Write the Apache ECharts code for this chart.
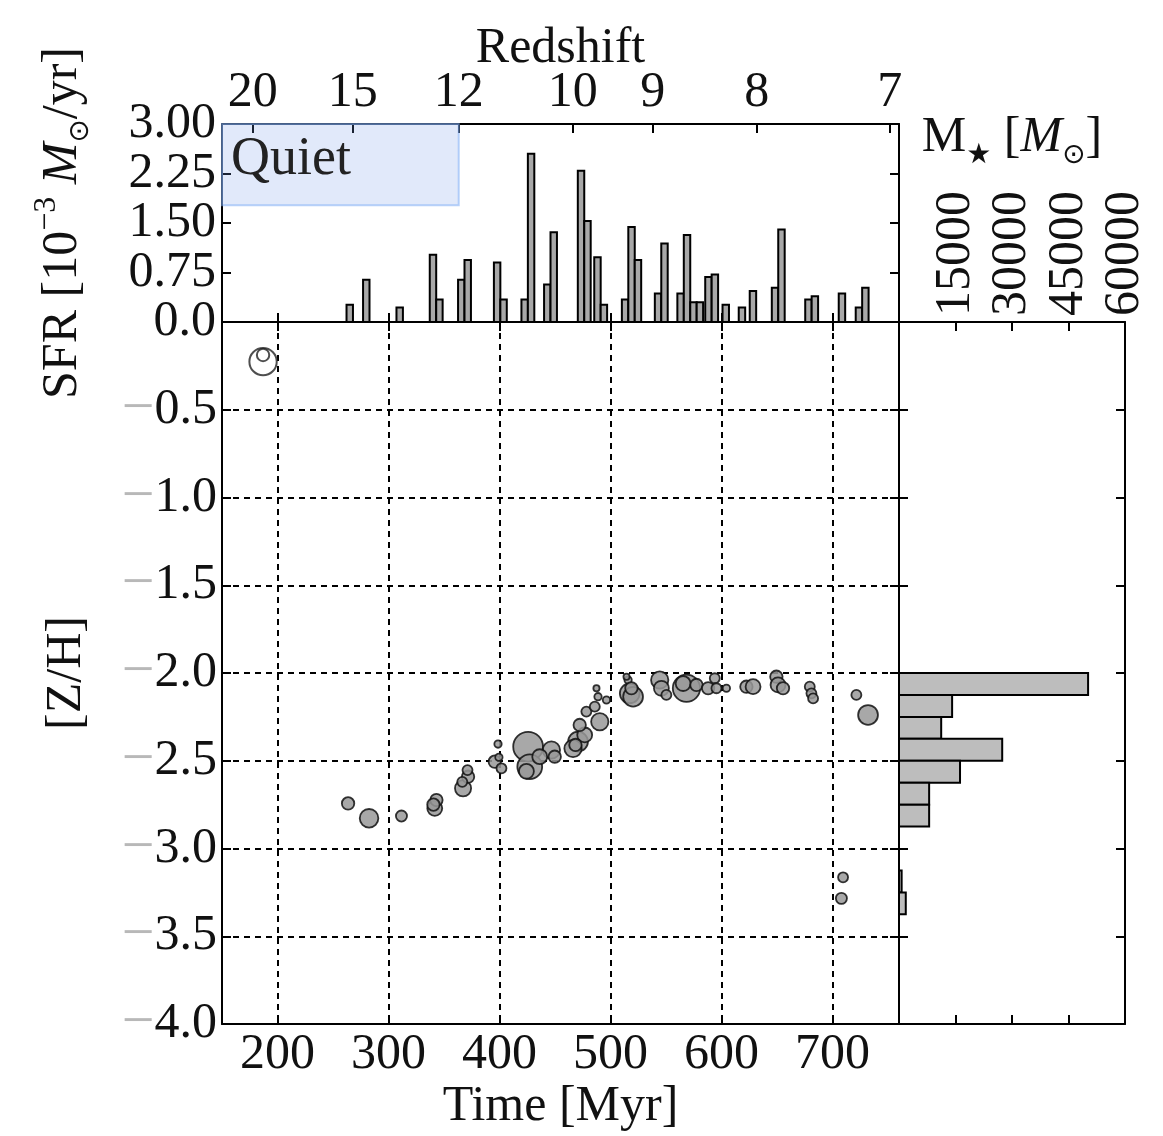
<!DOCTYPE html>
<html>
<head>
<meta charset="utf-8">
<title>SFR and metallicity history</title>
<script src="https://cdn.jsdelivr.net/npm/echarts@6/dist/echarts.min.js"></script>
<style>
  html, body { margin: 0; padding: 0; background: #fff; }
  #chart { width: 1163px; height: 1136px; }
</style>
</head>
<body>
<div id="chart"></div>
<script>
const FONT = '"Liberation Serif", "DejaVu Serif", serif';
const FS = 50;

// shared time range (Myr)
const timeMin = 150;
const timeMax = 760;

// star formation rate histogram, 10^-3 Msun/yr
const sfrBinWidth = 5.8;
const sfrBinStart = [262.2, 277.1, 307.2, 337.2, 343.0, 362.7, 368.5, 395.0, 400.8, 419.8,
  425.6, 440.2, 446.0, 470.6, 476.4, 485.4, 491.2, 510.3, 516.1, 521.9,
  540.0, 545.8, 560.3, 566.1, 571.9, 577.7, 585.4, 591.2, 601.0, 615.6,
  625.5, 645.4, 651.2, 675.5, 681.3, 705.7, 721.0, 726.8];
const sfrValues = [0.26, 0.64, 0.22, 1.02, 0.34, 0.64, 0.94, 0.90, 0.34, 0.34,
  2.55, 0.57, 1.36, 2.29, 1.53, 0.98, 0.26, 0.34, 1.44, 0.94,
  0.43, 1.19, 0.43, 1.32, 0.30, 0.30, 0.68, 0.72, 0.26, 0.22,
  0.47, 0.52, 1.40, 0.34, 0.39, 0.43, 0.22, 0.52];

// SFR tick labels, split in two sets so neighbouring labels never collide
const sfrTicksA = [0, 1.5, 3];
const sfrTicksB = [0.75, 2.25];

// redshift ticks on the top axis (time where each redshift falls)
const redshiftLabels = ['20', '15', '12', '10', '9', '8', '7'];
const redshiftTimes = [177.7, 267.8, 363.3, 466.0, 538.1, 631.8, 751.6];

// quiet period box
const quietTime = [150, 363.3];
const quietSfr = [1.77, 3.0];

// star particles: time, [Z/H], mass (Msun)
const starTime = [263.6, 282.5, 311.7, 341.7, 343.2, 340.5, 367.2, 371.7, 371.2, 366.5,
  398.7, 395.8, 401.8, 399.5, 425.8, 427.3, 424.3, 446.8, 449.8, 436.3,
  470.8, 476.8, 466.3, 468.5, 490.4, 472.3, 478.3, 485.9, 488.8, 496.4,
  487.4, 517.4, 515.9, 520.4, 518.9, 514.5, 544.4, 545.9, 550.4, 568.5,
  565.5, 577.5, 588.0, 594.0, 595.5, 604.5, 622.5, 628.5, 649.5, 651.0,
  655.5, 679.6, 681.1, 682.6, 721.6, 732.1, 709.6, 708.1];
const starZ = [-2.743, -2.828, -2.815, -2.771, -2.724, -2.750, -2.657, -2.591, -2.553, -2.620,
  -2.405, -2.505, -2.543, -2.480, -2.420, -2.534, -2.560, -2.439, -2.477, -2.477,
  -2.391, -2.353, -2.430, -2.410, -2.278, -2.296, -2.220, -2.192, -2.135, -2.154,
  -2.087, -2.116, -2.040, -2.135, -2.087, -2.021, -2.040, -2.087, -2.125, -2.087,
  -2.060, -2.068, -2.087, -2.030, -2.087, -2.087, -2.078, -2.078, -2.021, -2.068,
  -2.087, -2.078, -2.116, -2.145, -2.125, -2.239, -3.164, -3.284];
const starMass = [2000, 4500, 1600, 2900, 2000, 2000, 3400, 2000, 1300, 1300,
  700, 2000, 1300, 700, 11500, 8000, 2900, 3900, 2000, 2900,
  5100, 2900, 3900, 2000, 3900, 2000, 1300, 1300, 700, 700,
  500, 5100, 700, 5100, 2000, 500, 3900, 2900, 1300, 9700,
  2900, 2000, 2000, 1300, 1300, 700, 2000, 2900, 2000, 2900,
  2000, 1300, 1300, 1300, 1300, 5100, 1300, 1600];

// first (pristine) star particles, open symbols
const firstTime = [187.0, 187.0];
const firstZ = [-0.226, -0.188];
const firstMass = [9700, 2000];

// stellar mass per [Z/H] bin
const zBinTop = [-2.0, -2.125, -2.25, -2.375, -2.5, -2.625, -2.75, -3.125, -3.25];
const zBinBottom = [-2.125, -2.25, -2.375, -2.5, -2.625, -2.75, -2.875, -3.25, -3.375];
const zBinMass = [50200, 14100, 11200, 27400, 16200, 8000, 8000, 700, 1800];

const chart = echarts.init(document.getElementById('chart'));

const lineStyle = { color: '#000', width: 2 };
const axisLine = { show: true, onZero: false, lineStyle };
const ticks = { show: true, inside: true, length: 9, lineStyle };
const noLabel = { show: false };
const gridLine = { show: true, lineStyle: { color: '#000', width: 2, type: [6, 5] } };
const textBase = { fontFamily: FONT, fontSize: FS, color: '#111' };

const nameRich = {
  t: { fontFamily: FONT, fontSize: FS, color: '#111', lineHeight: 64 },
  i: { fontFamily: FONT, fontSize: FS, fontStyle: 'italic', color: '#111', lineHeight: 64 },
  s: { fontFamily: FONT, fontSize: 32, color: '#111', verticalAlign: 'top', lineHeight: 64 },
  b: { fontFamily: '"DejaVu Sans", sans-serif', fontSize: 28, color: '#111', verticalAlign: 'bottom', lineHeight: 64 }
};

const starSize = (v) => Math.sqrt(v[2] / 13);

const renderSfrBar = (params, api) => {
  const p0 = api.coord([api.value(0), api.value(2)]);
  const p1 = api.coord([api.value(1), 0]);
  return {
    type: 'rect',
    shape: { x: p0[0], y: p0[1], width: p1[0] - p0[0], height: p1[1] - p0[1] },
    style: { fill: '#a8a8a8', stroke: '#000', lineWidth: 2 }
  };
};

const renderZBar = (params, api) => {
  const p0 = api.coord([0, api.value(0)]);
  const p1 = api.coord([api.value(2), api.value(1)]);
  return {
    type: 'rect',
    shape: { x: p0[0], y: p0[1], width: p1[0] - p0[0], height: p1[1] - p0[1] },
    style: { fill: '#bdbdbd', stroke: '#000', lineWidth: 2 }
  };
};

const nearestRedshift = (v) => {
  let best = 0;
  redshiftTimes.forEach((t, i) => {
    if (Math.abs(t - v) < Math.abs(redshiftTimes[best] - v)) best = i;
  });
  return redshiftLabels[best];
};

const sfrLabel = (v) => (v === 0 ? '0.0' : v.toFixed(2));
const zLabel = (v) => (v === 0 ? '{d|0.0}' : '{m|\u2212}{d|' + Math.abs(v).toFixed(1) + '}');

chart.setOption({
  animation: false,
  backgroundColor: '#fff',
  grid: [
    { left: 222, top: 124, width: 677, height: 198, outerBoundsMode: 'none' },
    { left: 222, top: 322, width: 677, height: 702, outerBoundsMode: 'none' },
    { left: 899, top: 322, width: 226, height: 702, outerBoundsMode: 'none' }
  ],
  xAxis: [
    {
      gridIndex: 0, type: 'value', position: 'bottom', min: timeMin, max: timeMax,
      axisLine, axisTick: ticks, axisLabel: noLabel, splitLine: { show: false }
    },
    {
      gridIndex: 0, type: 'value', position: 'top', min: timeMin, max: timeMax,
      axisLine,
      axisTick: { ...ticks, customValues: redshiftTimes },
      axisLabel: { ...textBase, margin: 6, customValues: redshiftTimes, formatter: nearestRedshift },
      splitLine: { show: false },
      name: 'Redshift', nameLocation: 'middle', nameGap: 50, nameMoveOverlap: false,
      nameTextStyle: textBase
    },
    {
      gridIndex: 1, type: 'value', position: 'bottom', min: timeMin, max: timeMax,
      axisLine, axisTick: ticks,
      axisLabel: { ...textBase, margin: 6, showMinLabel: false, showMaxLabel: false },
      splitLine: gridLine,
      name: 'Time [Myr]', nameLocation: 'middle', nameGap: 58, nameMoveOverlap: false,
      nameTextStyle: textBase
    },
    {
      gridIndex: 1, type: 'value', position: 'top', min: timeMin, max: timeMax,
      axisLine, axisTick: ticks, axisLabel: noLabel, splitLine: { show: false }
    },
    {
      gridIndex: 2, type: 'value', position: 'top', min: 0, max: 60000, interval: 15000,
      axisLine, axisTick: ticks,
      axisLabel: {
        ...textBase, rotate: -90, margin: 6, showMinLabel: false, showMaxLabel: true,
        formatter: (v) => String(v)
      },
      splitLine: { show: false },
      name: '{t|M}{b|\u2605}{t| [}{i|M}{b|\u2299}{t|]}', nameLocation: 'middle', nameGap: 152,
      nameMoveOverlap: false,
      nameTextStyle: { rich: nameRich }
    },
    {
      gridIndex: 2, type: 'value', position: 'bottom', min: 0, max: 60000, interval: 15000,
      axisLine, axisTick: ticks, axisLabel: noLabel, splitLine: { show: false }
    }
  ],
  yAxis: [
    {
      gridIndex: 0, type: 'value', position: 'left', min: 0, max: 3, interval: 0.75,
      axisLine, axisTick: ticks,
      axisLabel: {
        ...textBase, margin: 6, customValues: sfrTicksA,
        showMinLabel: true, showMaxLabel: true, formatter: sfrLabel
      },
      splitLine: { show: false },
      name: '{t|SFR [10}{s|\u22123}{t| }{i|M}{b|\u2299}{t|/yr]}',
      nameLocation: 'middle', nameRotate: 90, nameGap: 127, nameMoveOverlap: false,
      nameTextStyle: { rich: nameRich }
    },
    {
      gridIndex: 0, type: 'value', position: 'right', min: 0, max: 3, interval: 0.75,
      axisLine, axisTick: ticks, axisLabel: noLabel, splitLine: { show: false }
    },
    {
      gridIndex: 1, type: 'value', position: 'left', min: -4, max: 0, interval: 0.5,
      axisLine, axisTick: ticks,
      axisLabel: {
        margin: 5, showMinLabel: true, showMaxLabel: false, formatter: zLabel,
        rich: {
          m: { fontFamily: FONT, fontSize: 58, color: '#b8b8b8' },
          d: { fontFamily: FONT, fontSize: FS, color: '#111' }
        }
      },
      splitLine: gridLine,
      name: '[Z/H]', nameLocation: 'middle', nameRotate: 90, nameGap: 130, nameMoveOverlap: false,
      nameTextStyle: textBase
    },
    {
      gridIndex: 1, type: 'value', position: 'right', min: -4, max: 0, interval: 0.5,
      axisLine, axisTick: ticks, axisLabel: noLabel, splitLine: { show: false }
    },
    {
      gridIndex: 2, type: 'value', position: 'left', min: -4, max: 0, interval: 0.5,
      axisLine, axisTick: ticks, axisLabel: noLabel, splitLine: { show: false }
    },
    {
      gridIndex: 2, type: 'value', position: 'right', min: -4, max: 0, interval: 0.5,
      axisLine, axisTick: ticks, axisLabel: noLabel, splitLine: { show: false }
    },
    {
      gridIndex: 0, type: 'value', position: 'left', offset: 0, min: 0, max: 3, interval: 0.75,
      axisLine: { show: false }, axisTick: { show: false },
      axisLabel: {
        ...textBase, margin: 6, customValues: sfrTicksB,
        showMinLabel: true, showMaxLabel: true, formatter: sfrLabel
      },
      splitLine: { show: false }
    }
  ],
  series: [
    {
      name: 'SFR',
      type: 'custom',
      xAxisIndex: 0,
      yAxisIndex: 0,
      renderItem: renderSfrBar,
      encode: { x: [0, 1], y: 2 },
      data: sfrBinStart.map((s, i) => [s, s + sfrBinWidth, sfrValues[i]])
    },
    {
      name: 'quiet',
      type: 'line',
      xAxisIndex: 0,
      yAxisIndex: 0,
      data: [],
      silent: true,
      markArea: {
        silent: true,
        itemStyle: { color: 'rgba(120, 155, 230, 0.22)', borderColor: 'rgba(130, 175, 245, 0.55)', borderWidth: 2 },
        label: {
          show: true, position: 'insideTopLeft', distance: 10,
          fontFamily: FONT, fontSize: 54, color: '#222'
        },
        data: [[
          { name: 'Quiet', coord: [quietTime[0], quietSfr[1]] },
          { coord: [quietTime[1], quietSfr[0]] }
        ]]
      }
    },
    {
      name: 'stars',
      type: 'scatter',
      xAxisIndex: 2,
      yAxisIndex: 2,
      symbol: 'circle',
      symbolSize: starSize,
      itemStyle: { color: '#999', borderColor: '#111', borderWidth: 1.8, opacity: 0.85 },
      data: starTime.map((t, i) => [t, starZ[i], starMass[i]]),
      z: 3
    },
    {
      name: 'first stars',
      type: 'scatter',
      xAxisIndex: 2,
      yAxisIndex: 2,
      symbol: 'circle',
      symbolSize: starSize,
      itemStyle: { color: 'rgba(255,255,255,0)', borderColor: '#222', borderWidth: 2 },
      data: firstTime.map((t, i) => [t, firstZ[i], firstMass[i]]),
      z: 3
    },
    {
      name: 'Z distribution',
      type: 'custom',
      xAxisIndex: 4,
      yAxisIndex: 4,
      renderItem: renderZBar,
      encode: { x: 2, y: [0, 1] },
      data: zBinTop.map((top, i) => [top, zBinBottom[i], zBinMass[i]])
    }
  ]
});
</script>
</body>
</html>
